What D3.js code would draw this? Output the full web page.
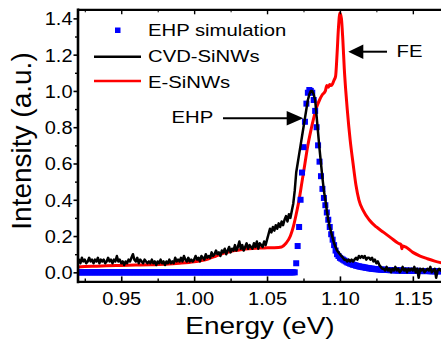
<!DOCTYPE html>
<html><head><meta charset="utf-8">
<script src="https://cdn.jsdelivr.net/npm/d3@7"></script>
<style>
body{margin:0;background:#fff}
svg{display:block}
text{font-family:Arial,"Liberation Sans",Helvetica,sans-serif;fill:#000}
</style>
</head><body>
<svg id="chart" width="441" height="346"></svg>
<script>
// ---------- data ----------
const seriesNames = ["EHP simulation", "CVD-SiNWs", "E-SiNWs"];
const xMajorTicks = [0.95, 1.00, 1.05, 1.10, 1.15];
const xMinorTicks = [0.925, 0.975, 1.025, 1.075, 1.125];
const yMajorTicks = [0.0, 0.2, 0.4, 0.6, 0.8, 1.0, 1.2, 1.4];
const yMinorTicks = [0.1, 0.3, 0.5, 0.7, 0.9, 1.1, 1.3];
const xTitle = "Energy (eV)";
const yTitle = "Intensity (a.u.)";
const annotations = ["EHP", "FE"];

// CVD-SiNWs: energies start at 0.920 eV, step 0.001 eV
const cvdStart = 0.920, cvdStep = 0.001;
const cvdValues = [
0.06,0.07,0.05,0.08,0.06,0.07,0.05,0.06,0.08,0.06,
0.07,0.05,0.07,0.06,0.08,0.05,0.07,0.06,0.07,0.05,
0.06,0.08,0.06,0.07,0.05,0.07,0.06,0.09,0.06,0.07,
0.05,0.06,0.04,0.06,0.05,0.07,0.06,0.08,0.10,0.07,
0.06,0.08,0.05,0.07,0.06,0.05,0.07,0.06,0.05,0.06,
0.05,0.07,0.05,0.06,0.04,0.06,0.05,0.07,0.05,0.06,
0.04,0.06,0.05,0.07,0.05,0.06,0.05,0.08,0.06,0.07,
0.06,0.08,0.06,0.09,0.07,0.06,0.08,0.06,0.07,0.06,
0.07,0.09,0.07,0.08,0.06,0.09,0.08,0.07,0.10,0.08,
0.09,0.08,0.11,0.09,0.10,0.12,0.10,0.11,0.09,0.12,
0.11,0.13,0.10,0.12,0.14,0.11,0.13,0.12,0.15,0.12,
0.14,0.17,0.13,0.15,0.12,0.14,0.16,0.13,0.15,0.14,
0.13,0.16,0.14,0.17,0.13,0.16,0.15,0.14,0.17,0.15,
0.18,0.21,0.24,0.22,0.25,0.23,0.26,0.24,0.27,0.25,
0.28,0.26,0.29,0.31,0.28,0.32,0.30,0.34,0.38,0.45,
0.55,0.60,0.65,0.70,0.75,0.80,0.85,0.90,0.95,0.98,
1.00,1.00,0.98,0.95,0.86,0.77,0.68,0.60,0.52,0.45,
0.40,0.34,0.29,0.25,0.22,0.19,0.16,0.14,0.12,0.11,
0.10,0.09,0.08,0.07,0.07,0.06,0.07,0.06,0.07,0.06,
0.07,0.08,0.07,0.09,0.08,0.09,0.08,0.09,0.07,0.08,
0.08,0.07,0.08,0.06,0.07,0.05,0.06,0.04,0.03,0.02,
0.02,0.01,0.03,0.01,0.02,0.00,0.02,0.01,0.03,0.01,
0.02,0.00,0.01,0.03,0.01,0.02,0.00,0.02,0.01,0.02,
0.01,0.03,0.00,0.02,-0.03,0.02,0.01,0.02,0.00,0.01,
0.02,0.01,0.03,0.00,0.01,0.02,-0.03,0.01,0.02,0.01,
0.02
];

// E-SiNWs
const eEnergy = [0.920,0.930,0.940,0.950,0.960,0.970,0.980,0.990,
1.000,1.005,1.010,1.015,1.020,1.025,1.030,1.035,1.040,1.045,1.050,1.055,1.060,
1.063,1.066,1.068,1.070,1.072,1.074,1.076,1.078,1.080,1.082,1.084,1.086,1.088,1.090,
1.091,1.092,1.093,1.094,1.095,1.096,1.097,1.098,1.099,1.100,1.101,1.102,1.103,1.104,1.105,
1.107,1.109,1.111,1.113,1.116,1.120,1.125,1.130,1.135,1.140,
1.142,1.1425,1.143,1.145,1.150,1.155,1.160,1.165,1.170];
const eValues = [0.030,0.033,0.036,0.038,0.040,0.042,0.045,0.050,
0.058,0.065,0.075,0.090,0.105,0.115,0.122,0.128,0.132,0.134,0.135,0.136,0.140,
0.160,0.200,0.250,0.320,0.400,0.500,0.600,0.700,0.780,0.850,0.910,0.950,0.980,1.000,
1.030,1.020,1.035,1.030,1.040,1.060,1.080,1.200,1.350,1.430,1.400,1.280,1.120,1.000,0.900,
0.730,0.600,0.480,0.400,0.340,0.290,0.250,0.220,0.190,0.160,
0.152,0.130,0.145,0.140,0.110,0.090,0.075,0.062,0.052];

// EHP simulation: energies start at 0.920 eV, step 0.001 eV
const simStart = 0.920, simStep = 0.001;
const simValues = [
0,0,0,0,0,0,0,0,0,0,
0,0,0,0,0,0,0,0,0,0,
0,0,0,0,0,0,0,0,0,0,
0,0,0,0,0,0,0,0,0,0,
0,0,0,0,0,0,0,0,0,0,
0,0,0,0,0,0,0,0,0,0,
0,0,0,0,0,0,0,0,0,0,
0,0,0,0,0,0,0,0,0,0,
0,0,0,0,0,0,0,0,0,0,
0,0,0,0,0,0,0,0,0,0,
0,0,0,0,0,0,0,0,0,0,
0,0,0,0,0,0,0,0,0,0,
0,0,0,0,0,0,0,0,0,0,
0,0,0,0,0,0,0,0,0,0,
0,0,0,0,0,0,0,0,0,0,
0.05,0.145,0.25,0.40,0.55,0.69,0.83,0.93,0.99,1.005,
1.00,0.99,0.95,0.89,0.80,0.70,0.61,0.53,0.46,0.41,
0.37,0.33,0.29,0.25,0.21,0.18,0.15,0.12,0.10,0.09,
0.08,0.075,0.07,0.065,0.06,0.055,0.052,0.048,0.045,0.042,
0.04,0.037,0.035,0.033,0.031,0.03,0.028,0.027,0.025,0.024,
0.022,0.021,0.02,0.019,0.018,0.017,0.017,0.016,0.015,0.015,
0.014,0.014,0.013,0.013,0.012,0.012,0.012,0.011,0.011,0.011,
0.010,0.010,0.010,0.010,0.009,0.009,0.009,0.009,0.009,0.008,
0.008,0.008,0.008,0.008,0.008,0.007,0.007,0.007,0.007,0.007,
0.007,0.007,0.006,0.006,0.006,0.006,0.006,0.006,0.006,0.006,
0.006
];

// ---------- drawing ----------
const svg = d3.select("#chart");
const L = 77.5, R = 442, T = 9.3, B = 281.4;
const x = d3.scaleLinear().domain([0.92, 1.17]).range([L, R]);
const y = d3.scaleLinear().domain([-0.05, 1.45]).range([B, T]);

svg.append("defs").append("clipPath").attr("id", "clip")
  .append("rect").attr("x", L).attr("y", T).attr("width", R - L).attr("height", B - T);

const cvd = cvdValues.map((v, i) => [cvdStart + i * cvdStep, v]);
const sim = simValues.map((v, i) => [simStart + i * simStep, v]);
const esi = eEnergy.map((e, i) => [e, eValues[i]]);

const plot = svg.append("g").attr("clip-path", "url(#clip)");

plot.append("path").datum(esi)
  .attr("d", d3.line().x(d => x(d[0])).y(d => y(d[1])).curve(d3.curveMonotoneX))
  .attr("fill", "none").attr("stroke", "#ff0000").attr("stroke-width", 3)
  .attr("stroke-linejoin", "round");

const sq = 6;
plot.append("g").selectAll("rect").data(sim).join("rect")
  .attr("x", d => x(d[0]) - sq / 2).attr("y", d => y(d[1]) - sq / 2)
  .attr("width", sq).attr("height", sq).attr("fill", "#0000ff");

plot.append("path").datum(cvd)
  .attr("d", d3.line().x(d => x(d[0])).y(d => y(d[1])))
  .attr("fill", "none").attr("stroke", "#000").attr("stroke-width", 2.5)
  .attr("stroke-linejoin", "round");

// text helper with slight vertical squash
function label(g, txt, px, py, size, k, anchor) {
  return g.append("text").text(txt)
    .attr("transform", `translate(${px},${py}) scale(1,${k})`)
    .attr("font-size", size).attr("text-anchor", anchor || "start");
}

// bottom axis
const gx = svg.append("g").attr("transform", `translate(0,${B})`)
  .call(d3.axisBottom(x).tickValues(xMajorTicks).tickSizeInner(-5).tickSizeOuter(0)
    .tickFormat(d3.format(".2f")));
gx.select(".domain").attr("stroke-width", 2.4);
gx.selectAll(".tick line").attr("stroke-width", 1.6);
gx.selectAll(".tick text").attr("y", null).attr("dy", null)
  .attr("transform", "translate(0,23.6) scale(1,0.9)").attr("font-size", 20)
  .attr("font-family", "Arial, 'Liberation Sans', sans-serif");
const gxm = svg.append("g").attr("transform", `translate(0,${B})`)
  .call(d3.axisBottom(x).tickValues(xMinorTicks).tickSizeInner(-3).tickSizeOuter(0).tickFormat(""));
gxm.select(".domain").remove();
gxm.selectAll(".tick line").attr("stroke-width", 1.4);

// top axis (mirror ticks, no labels)
const gt = svg.append("g").attr("transform", `translate(0,${T})`)
  .call(d3.axisTop(x).tickValues(xMajorTicks).tickSizeInner(-5).tickSizeOuter(0).tickFormat(""));
gt.select(".domain").attr("stroke-width", 2.2);
gt.selectAll(".tick line").attr("stroke-width", 1.4);
const gtm = svg.append("g").attr("transform", `translate(0,${T})`)
  .call(d3.axisTop(x).tickValues(xMinorTicks).tickSizeInner(-3).tickSizeOuter(0).tickFormat(""));
gtm.select(".domain").remove();

// left axis
const gy = svg.append("g").attr("transform", `translate(${L},0)`)
  .call(d3.axisLeft(y).tickValues(yMajorTicks).tickSizeInner(4).tickSizeOuter(0)
    .tickFormat(d3.format(".1f")));
gy.select(".domain").attr("stroke-width", 2.6).attr("stroke-linecap", "square");
gy.selectAll(".tick line").attr("stroke-width", 1.6);
gy.selectAll(".tick text").attr("x", null).attr("dy", null)
  .attr("transform", "translate(-5,6.5) scale(1,0.92)").attr("font-size", 20)
  .attr("font-family", "Arial, 'Liberation Sans', sans-serif");
const gym = svg.append("g").attr("transform", `translate(${L},0)`)
  .call(d3.axisLeft(y).tickValues(yMinorTicks).tickSizeInner(2.5).tickSizeOuter(0).tickFormat(""));
gym.select(".domain").remove();
gym.selectAll(".tick line").attr("stroke-width", 1.4);

// axis titles
label(svg, xTitle, 260, 334, 28, 0.86, "middle");
svg.append("text").text(yTitle)
  .attr("transform", "translate(31,141) rotate(-90)")
  .attr("font-size", 28).attr("text-anchor", "middle");

// legend
const lg = svg.append("g");
lg.append("rect").attr("x", 115).attr("y", 27.5).attr("width", 5.5).attr("height", 5.5).attr("fill", "#0000ff");
lg.append("line").attr("x1", 94).attr("x2", 141).attr("y1", 56.7).attr("y2", 56.7)
  .attr("stroke", "#000").attr("stroke-width", 2.4);
lg.append("line").attr("x1", 94).attr("x2", 141).attr("y1", 81).attr("y2", 81)
  .attr("stroke", "#ff0000").attr("stroke-width", 2.4);
label(lg, seriesNames[0], 148, 36, 20.3, 0.82);
label(lg, seriesNames[1], 148, 61.7, 20.3, 0.82);
label(lg, seriesNames[2], 148, 87.5, 20.3, 0.82);

// annotations with arrows
const ann = svg.append("g");
label(ann, annotations[0], 171.5, 123.3, 20.3, 0.82);
ann.append("line").attr("x1", 223).attr("x2", 290).attr("y1", 118.3).attr("y2", 118.3)
  .attr("stroke", "#000").attr("stroke-width", 2);
ann.append("path").attr("d", "M303.3,118.3 L286.7,111 L286.7,125.6 Z").attr("fill", "#000");
label(ann, annotations[1], 396.5, 57.3, 20.3, 0.82);
ann.append("line").attr("x1", 360).attr("x2", 387).attr("y1", 51.7).attr("y2", 51.7)
  .attr("stroke", "#000").attr("stroke-width", 2);
ann.append("path").attr("d", "M348.3,51.7 L363.3,44.5 L363.3,59 Z").attr("fill", "#000");
</script>
</body></html>
